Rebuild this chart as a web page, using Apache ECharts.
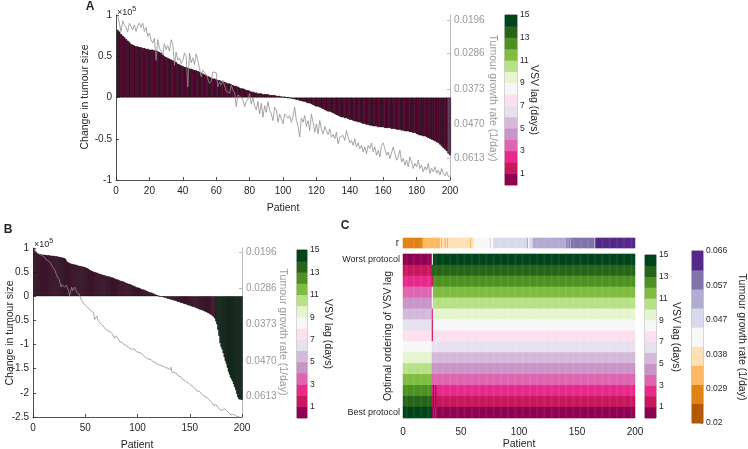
<!DOCTYPE html>
<html><head><meta charset="utf-8">
<script src="https://cdn.jsdelivr.net/npm/echarts@6/dist/echarts.min.js"></script>
<style>html,body{margin:0;padding:0;background:#fff}#c{width:748px;height:449px}</style>
</head><body><div id="c"></div>
<script>
// ---------------- DATA ----------------
// Panel A: change in tumour size (x10^5), sorted; per patient VSV lag; growth-rate trace (drawn on rate axis, in plot units)
const changeA = [
0.82,0.80,0.77,0.75,0.73,0.71,0.69,0.67,0.65,0.64,
0.63,0.62,0.62,0.61,0.61,0.60,0.60,0.59,0.59,0.58,
0.58,0.58,0.57,0.57,0.56,0.55,0.54,0.52,0.50,0.49,
0.48,0.47,0.46,0.45,0.44,0.43,0.41,0.40,0.39,0.38,
0.37,0.37,0.36,0.35,0.35,0.34,0.33,0.33,0.32,0.31,
0.30,0.29,0.28,0.27,0.26,0.25,0.24,0.23,0.23,0.22,
0.21,0.21,0.20,0.19,0.19,0.18,0.17,0.17,0.16,0.15,
0.14,0.14,0.13,0.12,0.11,0.11,0.10,0.09,0.09,0.08,
0.07,0.07,0.06,0.06,0.05,0.05,0.05,0.04,0.04,0.04,
0.04,0.03,0.03,0.03,0.03,0.02,0.02,0.02,0.01,0.01,
0.01,0.00,-0.003,-0.01,-0.01,-0.02,-0.02,-0.03,-0.03,-0.04,
-0.04,-0.05,-0.05,-0.06,-0.07,-0.07,-0.08,-0.09,-0.10,-0.11,
-0.11,-0.12,-0.13,-0.14,-0.15,-0.16,-0.17,-0.17,-0.18,-0.19,
-0.20,-0.21,-0.22,-0.23,-0.24,-0.24,-0.25,-0.25,-0.26,-0.27,
-0.27,-0.28,-0.29,-0.29,-0.30,-0.30,-0.31,-0.32,-0.32,-0.33,
-0.33,-0.34,-0.34,-0.35,-0.35,-0.35,-0.36,-0.36,-0.36,-0.36,
-0.37,-0.37,-0.37,-0.37,-0.38,-0.38,-0.38,-0.39,-0.39,-0.39,
-0.40,-0.40,-0.41,-0.41,-0.41,-0.42,-0.42,-0.43,-0.43,-0.44,
-0.45,-0.46,-0.46,-0.47,-0.47,-0.48,-0.49,-0.50,-0.51,-0.52,
-0.53,-0.54,-0.55,-0.57,-0.59,-0.61,-0.63,-0.65,-0.68,-0.70];
const lagA = [
1,1,1,1,1,1,1,1,1,1, 1,1,1,1,1,1,1,1,1,1,
1,1,1,1,1,1,1,1,1,1, 1,1,1,1,1,1,1,1,1,1,
1,1,1,1,1,1,1,1,1,1, 1,1,1,1,1,1,1,1,1,1,
1,1,1,1,1,1,1,1,1,1, 1,1,1,1,1,1,1,1,1,1,
1,1,1,1,1,1,1,1,1,1, 1,1,1,1,1,1,1,1,1,1,
1,1,1,1,1,1,1,1,1,1, 1,1,1,1,1,1,1,1,1,1,
1,1,1,1,1,1,1,1,1,1, 1,1,1,1,1,1,1,1,1,1,
1,1,1,1,1,1,1,1,1,1, 1,1,1,1,1,1,1,1,1,1,
1,1,1,1,1,1,1,1,1,1, 1,1,1,1,1,1,1,1,1,1,
1,1,1,1,1,1,1,1,1,1, 1,1,1,1,1,1,1,1,5,5];
const growthA = [
1.00,0.98,0.80,0.93,0.88,0.85,0.80,0.90,0.86,0.82,
0.88,0.80,0.87,0.90,0.85,0.90,0.80,0.85,0.74,0.78,
0.70,0.66,0.72,0.45,0.70,0.60,0.62,0.52,0.65,0.58,
0.63,0.56,0.70,0.65,0.39,0.55,0.45,0.48,0.41,0.45,
0.54,0.50,0.13,0.54,0.42,0.48,0.40,0.53,0.45,0.35,
0.25,0.33,0.31,0.28,0.27,0.17,0.20,0.31,0.33,0.30,
0.13,0.19,0.15,0.21,0.19,0.08,0.10,0.05,0.15,0.09,
0.06,-0.11,0.03,0.05,0.00,-0.03,-0.11,-0.05,-0.02,0.05,
-0.08,0.00,-0.10,-0.15,-0.05,-0.20,-0.07,-0.24,-0.10,-0.18,
-0.05,-0.15,-0.20,-0.28,-0.12,-0.15,-0.30,-0.20,-0.26,-0.32,
-0.20,-0.18,-0.25,-0.22,-0.30,-0.23,-0.12,-0.28,-0.35,-0.48,
-0.25,-0.30,-0.22,-0.35,-0.28,-0.40,-0.20,-0.30,-0.42,-0.32,
-0.44,-0.28,-0.38,-0.44,-0.35,-0.40,-0.45,-0.38,-0.48,-0.45,
-0.50,-0.42,-0.56,-0.48,-0.50,-0.46,-0.52,-0.40,-0.48,-0.55,
-0.52,-0.58,-0.50,-0.60,-0.55,-0.62,-0.58,-0.66,-0.60,-0.68,
-0.58,-0.62,-0.55,-0.66,-0.60,-0.70,-0.64,-0.72,-0.58,-0.55,
-0.62,-0.70,-0.66,-0.74,-0.72,-0.60,-0.68,-0.76,-0.72,-0.64,
-0.78,-0.74,-0.82,-0.76,-0.84,-0.72,-0.78,-0.86,-0.80,-0.84,
-0.76,-0.86,-0.82,-0.90,-0.84,-0.88,-0.80,-0.92,-0.86,-0.90,
-0.84,-0.92,-0.88,-0.94,-0.86,-0.92,-0.95,-0.90,-0.96,-0.95];

// Panel B
const changeB = [
0.98,0.95,0.92,0.89,0.88,0.87,0.87,0.87,0.86,0.86,
0.86,0.86,0.85,0.85,0.85,0.85,0.84,0.84,0.84,0.84,
0.83,0.83,0.83,0.82,0.82,0.81,0.81,0.80,0.80,0.79,
0.78,0.74,0.71,0.70,0.69,0.68,0.67,0.67,0.66,0.66,
0.65,0.65,0.64,0.63,0.63,0.62,0.62,0.61,0.61,0.60,
0.59,0.58,0.57,0.55,0.54,0.53,0.52,0.51,0.50,0.50,
0.49,0.48,0.47,0.46,0.46,0.45,0.44,0.44,0.43,0.42,
0.42,0.41,0.41,0.40,0.39,0.39,0.38,0.37,0.36,0.35,
0.35,0.34,0.33,0.32,0.31,0.31,0.30,0.29,0.28,0.27,
0.26,0.26,0.25,0.24,0.23,0.22,0.21,0.20,0.19,0.18,
0.18,0.17,0.16,0.15,0.14,0.14,0.13,0.12,0.11,0.10,
0.09,0.08,0.08,0.07,0.06,0.05,0.04,0.03,0.02,0.01,
0.00,-0.01,-0.01,-0.02,-0.02,-0.03,-0.03,-0.04,-0.05,-0.05,
-0.06,-0.07,-0.07,-0.08,-0.09,-0.09,-0.10,-0.11,-0.12,-0.12,
-0.13,-0.14,-0.14,-0.15,-0.16,-0.16,-0.17,-0.18,-0.19,-0.19,
-0.20,-0.21,-0.22,-0.22,-0.23,-0.24,-0.25,-0.26,-0.27,-0.28,
-0.28,-0.29,-0.30,-0.31,-0.32,-0.33,-0.34,-0.35,-0.36,-0.38,
-0.39,-0.41,-0.43,-0.46,-0.52,-0.58,-0.70,-0.82,-0.97,-1.05,
-1.10,-1.18,-1.26,-1.34,-1.40,-1.48,-1.56,-1.62,-1.68,-1.72,
-1.76,-1.82,-1.88,-1.94,-2.02,-2.09,-2.13,-2.14,-2.14,-2.15];
const lagB = [
1,1,1,1,1,1,1,1,1,1, 1,1,1,1,1,1,1,1,1,1,
1,1,1,1,1,1,1,1,1,1, 1,1,1,1,1,1,1,1,1,1,
1,1,1,1,1,1,1,1,1,1, 1,1,1,1,1,1,1,1,1,1,
1,1,1,1,1,1,1,1,1,1, 1,1,1,1,1,1,1,1,1,1,
1,1,1,1,1,1,1,1,1,1, 1,1,1,1,1,1,1,1,1,1,
1,1,1,1,1,1,1,1,1,1, 1,1,1,1,1,1,1,1,1,1,
1,1,1,1,1,1,1,1,1,1, 1,1,1,1,1,1,1,1,1,1,
1,1,1,1,1,1,1,1,1,1, 1,1,1,1,1,1,1,1,1,1,
1,1,1,1,1,1,1,1,1,1, 2,1,2,1,15,15,15,15,15,15,
15,15,15,15,15,15,15,15,15,15, 15,15,15,15,15,15,15,15,15,15];
const growthB = [
0.95,0.94,0.92,0.90,0.89,0.87,0.86,0.85,0.84,0.82,
0.81,0.78,0.75,0.74,0.73,0.72,0.68,0.65,0.60,0.56,
0.54,0.47,0.42,0.38,0.35,0.33,0.19,0.24,0.26,0.19,
0.21,0.23,0.17,0.12,0.01,0.10,0.19,0.12,0.16,0.19,
0.13,0.08,0.12,0.05,0.01,-0.06,-0.10,-0.14,-0.16,-0.18,
-0.20,-0.22,-0.25,-0.27,-0.29,-0.31,-0.33,-0.34,-0.48,-0.44,
-0.41,-0.48,-0.50,-0.55,-0.57,-0.59,-0.62,-0.64,-0.66,-0.69,
-0.70,-0.72,-0.71,-0.74,-0.76,-0.78,-0.80,-0.87,-0.82,-0.83,
-0.86,-0.90,-0.94,-0.93,-0.96,-0.97,-0.99,-1.00,-1.02,-1.04,
-1.05,-1.03,-1.08,-1.07,-1.10,-1.11,-1.09,-1.13,-1.15,-1.14,
-1.16,-1.18,-1.17,-1.20,-1.21,-1.22,-1.25,-1.24,-1.29,-1.28,
-1.30,-1.32,-1.31,-1.34,-1.36,-1.35,-1.37,-1.39,-1.40,-1.41,
-1.42,-1.43,-1.44,-1.46,-1.45,-1.47,-1.48,-1.50,-1.49,-1.50,
-1.52,-1.47,-1.57,-1.54,-1.58,-1.60,-1.59,-1.62,-1.65,-1.68,
-1.66,-1.70,-1.72,-1.70,-1.74,-1.76,-1.78,-1.77,-1.80,-1.82,
-1.84,-1.86,-1.87,-1.89,-1.91,-1.93,-1.96,-1.95,-1.97,-1.99,
-2.01,-2.03,-2.06,-2.05,-2.08,-2.10,-2.11,-2.13,-2.15,-2.17,
-2.19,-2.22,-2.27,-2.25,-2.24,-2.27,-2.30,-2.33,-2.35,-2.34,
-2.36,-2.38,-2.33,-2.37,-2.36,-2.35,-2.40,-2.43,-2.45,-2.44,
-2.45,-2.46,-2.45,-2.47,-2.49,-2.48,-2.50,-2.52,-2.51,-2.52];

// growth-rate axis tick labels (A and B) and where they sit on that axis
const rateTickLabels = ['0.0196','0.0286','0.0373','0.0470','0.0613'];
const rateTickPosA = [0.94, 0.54, 0.10, -0.32, -0.74];
const rateTickPosB = [0.916, 0.17, -0.575, -1.345, -2.08];

// Panel C: growth rate per patient (strip "r") and optimal lag ordering
const rC = [
0.027,0.027,0.028,0.028,0.028,0.028,0.029,0.029,0.029,0.029,0.029,0.029,0.030,0.030,0.030,0.030,0.030,
0.031,0.031,0.031,0.032,0.032,0.032,0.032,0.033,0.033,0.033,0.034,0.034,0.034,0.035,0.035,
0.036,0.035,0.036,0.036,0.035,0.036,0.035,
0.036,0.036,0.036,0.037,0.037,0.037,0.037,0.037,0.038,0.038,0.038,0.038,0.039,0.039,0.039,0.039,0.040,0.040,0.040,
0.035,0.040,0.040,
0.041,0.041,0.041,0.042,0.042,0.042,0.043,0.043,0.043,0.044,0.044,0.044,0.045,0.045,0.047,0.045,0.045,
0.046,0.046,0.046,0.046,0.047,0.047,0.047,0.047,0.047,0.048,0.048,0.048,0.048,0.048,0.048,0.049,0.049,0.049,0.049,0.049,0.049,0.050,0.050,0.050,0.050,0.050,0.050,0.050,0.050,0.052,
0.045,
0.050,0.050,0.050,
0.051,0.051,0.051,0.052,0.052,0.052,0.052,0.053,0.053,0.053,0.053,0.053,0.054,0.054,0.054,0.054,0.054,0.054,0.055,0.055,0.055,0.055,0.055,0.055,0.055,0.055,0.055,0.055,0.055,
0.057,0.055,0.057,0.055,
0.056,0.056,0.057,0.057,0.057,0.057,0.058,0.058,0.058,0.058,0.059,0.059,0.059,0.059,0.060,0.060,0.060,0.060,0.060,0.060,
0.055,
0.061,0.061,0.061,0.062,0.062,0.062,0.062,0.062,0.063,0.063,0.063,0.063,0.063,0.063,0.064,0.064,0.064,0.064,0.064,0.064,0.065,0.065,0.065,0.065,0.065,0.065,0.065,0.066,0.066,0.066,0.066,0.066,0.066,0.066];
// lag in each protocol rank (worst -> best)
const orderEarly = [1,2,3,4,5,6,7,8,9,10,11,12,13,14,15];
const orderLate  = [15,14,13,12,11,10,9,8,7,6,5,4,3,2,1];
const orderMix1  = [9,14,2,9,9,3,2,2,7,6,5,4,3,2,1];
const orderMix2  = [15,14,13,12,11,10,9,8,7,6,5,4,1,1,2];
const orderingRuns = [['early',25],['mix1',1],['mix2',1],['late',1],['mix2',1],['late',171]];
const protocolLabels = ['Worst protocol','Best protocol'];

// colour scales
const lagLevels = [1,2,3,4,5,6,7,8,9,10,11,12,13,14,15];
const lagTicks = [1,3,5,7,9,11,13,15];
const lagPalette = ['#8e0152','#c8175d','#e7298a','#df65b0','#c994c7','#d4b9da','#e7e1ef','#fde0ef','#f7f7f7','#e6f5d0','#b8e186','#7fbc41','#4d9221','#276419','#00441b'];
const rEdges = [0.02,0.0251,0.0302,0.0353,0.0404,0.0456,0.0507,0.0558,0.0609,0.066];
const rPalette = ['#b35806','#e08214','#fdb863','#fee0b6','#f7f7f7','#d8daeb','#b2abd2','#8073ac','#542788'];
const rTickVals = [0.02,0.0292,0.0384,0.0476,0.0568,0.066];
const rTickLabels = ['0.02','0.029','0.038','0.047','0.057','0.066'];

// ---------------- BUILD ----------------
const FONT = '"Liberation Sans", Arial, Helvetica, sans-serif';
const INK = '#262626';
const GREY = '#8f8f8f';
const patients = changeA.map((_, i) => String(i + 1));
const orderingByName = {early: orderEarly, late: orderLate, mix1: orderMix1, mix2: orderMix2};

const barAData = changeA.map((v, i) => [i + 1, v, lagA[i]]);
const lineAData = growthA.map((v, i) => [i + 1, v]);
const barBData = changeB.map((v, i) => [i + 1, v, lagB[i]]);
const lineBData = growthB.map((v, i) => [i + 1, v]);
const stripData = rC.map((v, i) => [i, 0, v]);
const heatC = [];
let col = 0;
orderingRuns.forEach(([name, n]) => {
  const ord = orderingByName[name];
  for (let j = 0; j < n; j++, col++) ord.forEach((lag, row) => heatC.push([col, row, lag]));
});
const cbLagData = lagLevels.map((k, i) => [0, i, k]);
const cbRData = rPalette.map((_, i) => [0, i, (rEdges[i] + rEdges[i + 1]) / 2]);

function nearestLabel(pos, labels) {
  return v => { let b = 0; pos.forEach((p, i) => { if (Math.abs(p - v) < Math.abs(pos[b] - v)) b = i; }); return labels[b]; };
}
const tickFont = {fontFamily: FONT, fontSize: 10, color: INK};
const smallFont = {fontFamily: FONT, fontSize: 8.5, color: INK};

function grid(l, t, w, h, border) {
  return {left: l, top: t, width: w, height: h, containLabel: false, outerBoundsMode: 'none',
    show: !!border, borderColor: '#555', borderWidth: 0.6, backgroundColor: 'transparent'};
}
const hiddenCat = (gi, data) => ({type: 'category', gridIndex: gi, data: data, show: false, boundaryGap: true});

function leftValueAxis(gi, min, max, interval) {
  return {type: 'value', gridIndex: gi, min: min, max: max, interval: interval, position: 'left',
    axisLine: {show: true, onZero: false, lineStyle: {color: INK, width: 0.8}},
    axisTick: {show: true, inside: true, length: 3, lineStyle: {color: INK, width: 0.8}},
    axisLabel: Object.assign({margin: 4}, tickFont), splitLine: {show: false}};
}
function rateAxis(gi, min, max, pos) {
  return {type: 'value', gridIndex: gi, min: min, max: max, position: 'right',
    axisLine: {show: true, onZero: false, lineStyle: {color: '#a8a8a8', width: 0.8}},
    axisTick: {show: true, inside: true, length: 3, customValues: pos, lineStyle: {color: '#a8a8a8', width: 0.8}},
    axisLabel: {customValues: pos, formatter: nearestLabel(pos, rateTickLabels), fontFamily: FONT, fontSize: 10, color: '#9a9a9a', margin: 4},
    splitLine: {show: false}};
}
function cbLabelAxis(gi, min, max, vals, fmt) {
  return {type: 'value', gridIndex: gi, min: min, max: max, position: 'right',
    axisLine: {show: false}, axisTick: {show: true, inside: true, length: 2, customValues: vals, lineStyle: {color: '#555', width: 0.6}},
    axisLabel: Object.assign({customValues: vals, formatter: fmt, margin: 3}, smallFont), splitLine: {show: false}};
}
function xValueAxis(gi, interval, showLine) {
  return {type: 'value', gridIndex: gi, min: 0, max: 200, interval: interval, position: 'bottom',
    axisLine: {show: showLine, onZero: false, lineStyle: {color: INK, width: 0.8}},
    axisTick: {show: showLine, inside: true, length: 3, lineStyle: {color: INK, width: 0.8}},
    axisLabel: Object.assign({margin: 6}, tickFont), splitLine: {show: false}};
}

const xAxes = [
  xValueAxis(0, 20, true),            // 0 A
  xValueAxis(1, 50, true),            // 1 B
  hiddenCat(2, patients),             // 2 C strip
  hiddenCat(3, patients),             // 3 C heat
  xValueAxis(3, 50, false),           // 4 C labels
  hiddenCat(4, ['']), hiddenCat(5, ['']), hiddenCat(6, ['']), hiddenCat(7, [''])  // 5-8 colourbars
];
xAxes[4].axisLabel.margin = 9;

const yAxes = [
  leftValueAxis(0, -1, 1, 0.5),       // 0
  rateAxis(0, -1, 1, rateTickPosA),   // 1
  leftValueAxis(1, -2.5, 1, 0.5),     // 2
  rateAxis(1, -2.5, 1, rateTickPosB), // 3
  {type: 'category', gridIndex: 2, data: ['r'], axisLine: {show: false}, axisTick: {show: false},
   axisLabel: Object.assign({margin: 4}, tickFont, {fontSize: 10})},   // 4
  {type: 'category', gridIndex: 3, data: lagLevels.map(String), inverse: true, axisLine: {show: false}, axisTick: {show: false},
   axisLabel: Object.assign({interval: 0, margin: 3, formatter: (v, i) => i === 0 ? protocolLabels[0] : (i === lagLevels.length - 1 ? protocolLabels[1] : '')}, tickFont, {fontSize: 9})}, // 5
  hiddenCat(4, lagLevels.map(String)),                         // 6
  cbLabelAxis(4, 0, 15, lagTicks, v => String(Math.round(v))), // 7
  hiddenCat(5, lagLevels.map(String)),                         // 8
  cbLabelAxis(5, 0, 15, lagTicks, v => String(Math.round(v))), // 9
  hiddenCat(6, lagLevels.map(String)),                         // 10
  cbLabelAxis(6, 0, 15, lagTicks, v => String(Math.round(v))), // 11
  hiddenCat(7, rPalette.map((_, i) => String(i))),             // 12
  cbLabelAxis(7, 0.02, 0.066, rTickVals, nearestLabel(rTickVals, rTickLabels)) // 13
];

const barStyleA = {borderColor: '#1a000c', borderWidth: 0.75};
const barStyleB = {borderColor: '#050505', borderWidth: 0.55};

const series = [
  {type: 'bar', xAxisIndex: 0, yAxisIndex: 0, data: barAData, barWidth: 2.0, itemStyle: barStyleA, silent: true},
  {type: 'line', xAxisIndex: 0, yAxisIndex: 1, data: lineAData, showSymbol: false, symbol: 'none', lineStyle: {color: GREY, width: 0.8}, silent: true, z: 5},
  {type: 'bar', xAxisIndex: 1, yAxisIndex: 2, data: barBData, barWidth: 1.3, itemStyle: barStyleB, silent: true},
  {type: 'line', xAxisIndex: 1, yAxisIndex: 3, data: lineBData, showSymbol: false, symbol: 'none', lineStyle: {color: GREY, width: 0.8}, silent: true, z: 5},
  {type: 'heatmap', xAxisIndex: 2, yAxisIndex: 4, data: stripData, progressive: 0, silent: true},
  {type: 'heatmap', xAxisIndex: 3, yAxisIndex: 5, data: heatC, progressive: 0, silent: true},
  {type: 'heatmap', xAxisIndex: 5, yAxisIndex: 6, data: cbLagData, progressive: 0, silent: true},
  {type: 'heatmap', xAxisIndex: 6, yAxisIndex: 8, data: cbLagData, progressive: 0, silent: true},
  {type: 'heatmap', xAxisIndex: 7, yAxisIndex: 10, data: cbLagData, progressive: 0, silent: true},
  {type: 'heatmap', xAxisIndex: 8, yAxisIndex: 12, data: cbRData, progressive: 0, silent: true}
];

function txt(x, y, text, opt) {
  opt = opt || {};
  return {type: 'text', x: x, y: y, rotation: opt.rot || 0, silent: true,
    style: {text: text, fill: opt.color || INK, font: (opt.weight || 'normal') + ' ' + (opt.size || 10.5) + 'px ' + FONT,
      align: opt.align || 'center', verticalAlign: opt.va || 'middle'}};
}
const up = Math.PI / 2, down = -Math.PI / 2;
function sciLabel(x, y) {
  return {type: 'text', x: x, y: y, silent: true, style: {text: '×10{s|5}', fill: INK, font: '9px ' + FONT,
    rich: {s: {font: '7px ' + FONT, fill: INK, verticalAlign: 'top', padding: [0, 0, 6, 0]}}}};
}

const graphics = [
  txt(90, 7, 'A', {weight: 'bold', size: 12}),
  txt(8, 230, 'B', {weight: 'bold', size: 12}),
  txt(345, 226, 'C', {weight: 'bold', size: 12}),
  sciLabel(117, 6),
  sciLabel(34, 238),
  txt(85, 97, 'Change in tumour size', {rot: up}),
  txt(283, 208, 'Patient'),
  txt(493, 98, 'Tumour growth rate (1/day)', {rot: down, color: '#9a9a9a'}),
  txt(534, 100, 'VSV lag (days)', {rot: down}),
  txt(10, 333, 'Change in tumour size', {rot: up}),
  txt(137, 445, 'Patient'),
  txt(283, 332, 'Tumour growth rate (1/day)', {rot: down, color: '#9a9a9a'}),
  txt(328, 334, 'VSV lag (days)', {rot: down}),
  txt(388, 336, 'Optimal ordering of VSV lag', {rot: up}),
  txt(519, 444, 'Patient'),
  txt(676, 337, 'VSV lag (days)', {rot: down}),
  txt(742, 337, 'Tumour growth rate (1/day)', {rot: down})
];

const option = {
  animation: false,
  backgroundColor: '#fff',
  textStyle: {fontFamily: FONT},
  grid: [
    grid(116, 15, 334, 165),
    grid(33, 248, 209, 169),
    grid(403, 238, 232, 10),
    grid(403, 254, 232, 164),
    grid(505, 15, 12, 170, true),
    grid(297, 250, 10, 168, true),
    grid(645, 255, 11, 163, true),
    grid(692, 251, 11, 172, true)
  ],
  xAxis: xAxes,
  yAxis: yAxes,
  visualMap: [
    {type: 'piecewise', show: false, dimension: 2, seriesIndex: [0, 2, 5, 6, 7, 8],
     pieces: lagLevels.map((k, i) => ({value: k, color: lagPalette[i]}))},
    {type: 'piecewise', show: false, dimension: 2, seriesIndex: [4, 9],
     pieces: rPalette.map((c, i) => (i === rPalette.length - 1 ? {gte: rEdges[i], lte: rEdges[i + 1], color: c} : {gte: rEdges[i], lt: rEdges[i + 1], color: c}))}
  ],
  series: series,
  graphic: graphics
};
const chart = echarts.init(document.getElementById('c'));
chart.setOption(option);
</script>
</body></html>
